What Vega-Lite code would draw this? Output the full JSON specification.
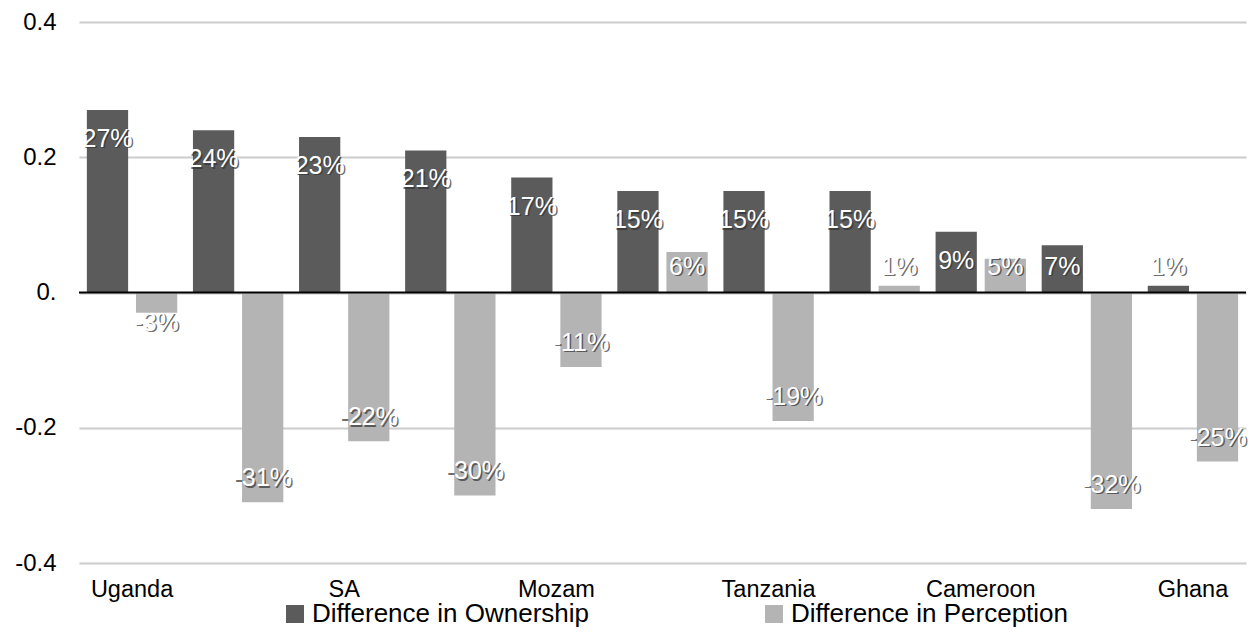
{
  "$schema": "https://vega.github.io/schema/vega-lite/v6.json",
  "width": 1167,
  "height": 541,
  "autosize": {"type": "none"},
  "padding": {"left": 79, "top": 22, "right": 7, "bottom": 74},
  "config": {
    "view": {"stroke": null},
    "font": "Liberation Sans",
    "locale": {"number": {"decimal": ".", "thousands": ",", "grouping": [3], "currency": ["$", ""], "minus": "-"}},
    "axisY": {"domain": false, "ticks": false, "grid": true, "gridColor": "#cccccc", "gridWidth": 2, "labelFontSize": 24, "labelColor": "#000000", "labelPadding": 23, "labelFont": "Liberation Sans"},
    "axisX": {"domain": false, "ticks": false, "grid": false, "labelFontSize": 23.5, "labelColor": "#000000", "labelPadding": 14, "labelAngle": 0, "labelFont": "Liberation Sans"}
  },
  "data": {
    "values": [
      {"country": "Uganda", "series": "Difference in Ownership", "value": 0.27},
      {"country": "Uganda", "series": "Difference in Perception", "value": -0.03},
      {"country": "Nigeria", "series": "Difference in Ownership", "value": 0.24},
      {"country": "Nigeria", "series": "Difference in Perception", "value": -0.31},
      {"country": "SA", "series": "Difference in Ownership", "value": 0.23},
      {"country": "SA", "series": "Difference in Perception", "value": -0.22},
      {"country": "Ethiopia", "series": "Difference in Ownership", "value": 0.21},
      {"country": "Ethiopia", "series": "Difference in Perception", "value": -0.30},
      {"country": "Mozam", "series": "Difference in Ownership", "value": 0.17},
      {"country": "Mozam", "series": "Difference in Perception", "value": -0.11},
      {"country": "Rwanda", "series": "Difference in Ownership", "value": 0.15},
      {"country": "Rwanda", "series": "Difference in Perception", "value": 0.06},
      {"country": "Tanzania", "series": "Difference in Ownership", "value": 0.15},
      {"country": "Tanzania", "series": "Difference in Perception", "value": -0.19},
      {"country": "Botswana", "series": "Difference in Ownership", "value": 0.15},
      {"country": "Botswana", "series": "Difference in Perception", "value": 0.01},
      {"country": "Cameroon", "series": "Difference in Ownership", "value": 0.09},
      {"country": "Cameroon", "series": "Difference in Perception", "value": 0.05},
      {"country": "Kenya", "series": "Difference in Ownership", "value": 0.07},
      {"country": "Kenya", "series": "Difference in Perception", "value": -0.32},
      {"country": "Ghana", "series": "Difference in Ownership", "value": 0.01},
      {"country": "Ghana", "series": "Difference in Perception", "value": -0.25}
    ]
  },
  "encoding": {
    "x": {"field": "country", "type": "nominal", "sort": null, "title": null,
      "scale": {"paddingInner": 0, "paddingOuter": 0},
      "axis": {"labelExpr": "indexof(['Uganda','SA','Mozam','Tanzania','Cameroon','Ghana'], datum.value) >= 0 ? datum.value : ''"}},
    "xOffset": {"field": "series", "type": "nominal", "sort": ["Difference in Ownership", "Difference in Perception"],
      "scale": {"paddingInner": 0.16, "paddingOuter": 0.16}}
  },
  "layer": [
    {
      "mark": {"type": "bar"},
      "encoding": {
        "y": {"field": "value", "type": "quantitative", "title": null,
          "scale": {"domain": [-0.4, 0.4], "nice": false},
          "axis": {"values": [-0.4, -0.2, 0, 0.2, 0.4], "labelExpr": "datum.value == 0 ? '0.' : format(datum.value, '.1f')"}},
        "color": {"field": "series", "type": "nominal", "sort": ["Difference in Ownership", "Difference in Perception"],
          "scale": {"range": ["#5b5b5b", "#b4b4b4"]},
          "legend": {"title": null, "orient": "none", "direction": "horizontal", "legendX": 203, "legendY": 579,
            "symbolType": "square", "symbolSize": 324, "symbolStrokeWidth": 0, "labelFontSize": 26, "labelFont": "Liberation Sans",
            "labelColor": "#000000", "labelLimit": 500, "labelOffset": 4, "columnPadding": 172}}
      }
    },
    {
      "data": {"values": [{}]},
      "mark": {"type": "rule", "color": "#000000", "strokeWidth": 2},
      "encoding": {"x": null, "xOffset": null, "y": {"datum": 0}}
    },
    {
      "transform": [{"filter": "datum.value >= 0.08"}],
      "mark": {"type": "text", "fontSize": 25, "dy": 30.5, "dx": 1.5, "color": "#333333", "opacity": 0.7, "baseline": "middle"},
      "encoding": {"y": {"field": "value", "type": "quantitative"}, "text": {"field": "value", "type": "quantitative", "format": ".0%"}}
    },
    {
      "transform": [{"filter": "datum.value >= 0.08"}],
      "mark": {"type": "text", "fontSize": 25, "dy": 29, "color": "#ffffff", "baseline": "middle"},
      "encoding": {"y": {"field": "value", "type": "quantitative"}, "text": {"field": "value", "type": "quantitative", "format": ".0%"}}
    },
    {
      "transform": [{"filter": "datum.value >= 0 && datum.value < 0.08"}],
      "mark": {"type": "text", "fontSize": 25, "dy": -24.5, "dx": 1.5, "color": "#333333", "opacity": 0.7, "baseline": "middle"},
      "encoding": {"y": {"datum": 0}, "text": {"field": "value", "type": "quantitative", "format": ".0%"}}
    },
    {
      "transform": [{"filter": "datum.value >= 0 && datum.value < 0.08"}],
      "mark": {"type": "text", "fontSize": 25, "dy": -26, "color": "#ffffff", "baseline": "middle"},
      "encoding": {"y": {"datum": 0}, "text": {"field": "value", "type": "quantitative", "format": ".0%"}}
    },
    {
      "transform": [{"filter": "datum.value <= -0.08"}],
      "mark": {"type": "text", "fontSize": 25, "dy": -22.5, "dx": 1.5, "color": "#333333", "opacity": 0.7, "baseline": "middle"},
      "encoding": {"y": {"field": "value", "type": "quantitative"}, "text": {"field": "value", "type": "quantitative", "format": ".0%"}}
    },
    {
      "transform": [{"filter": "datum.value <= -0.08"}],
      "mark": {"type": "text", "fontSize": 25, "dy": -24, "color": "#ffffff", "baseline": "middle"},
      "encoding": {"y": {"field": "value", "type": "quantitative"}, "text": {"field": "value", "type": "quantitative", "format": ".0%"}}
    },
    {
      "transform": [{"filter": "datum.value < 0 && datum.value > -0.08"}],
      "mark": {"type": "text", "fontSize": 25, "dy": 31.5, "dx": 1.5, "color": "#333333", "opacity": 0.7, "baseline": "middle"},
      "encoding": {"y": {"datum": 0}, "text": {"field": "value", "type": "quantitative", "format": ".0%"}}
    },
    {
      "transform": [{"filter": "datum.value < 0 && datum.value > -0.08"}],
      "mark": {"type": "text", "fontSize": 25, "dy": 30, "color": "#ffffff", "baseline": "middle"},
      "encoding": {"y": {"datum": 0}, "text": {"field": "value", "type": "quantitative", "format": ".0%"}}
    }
  ]
}
